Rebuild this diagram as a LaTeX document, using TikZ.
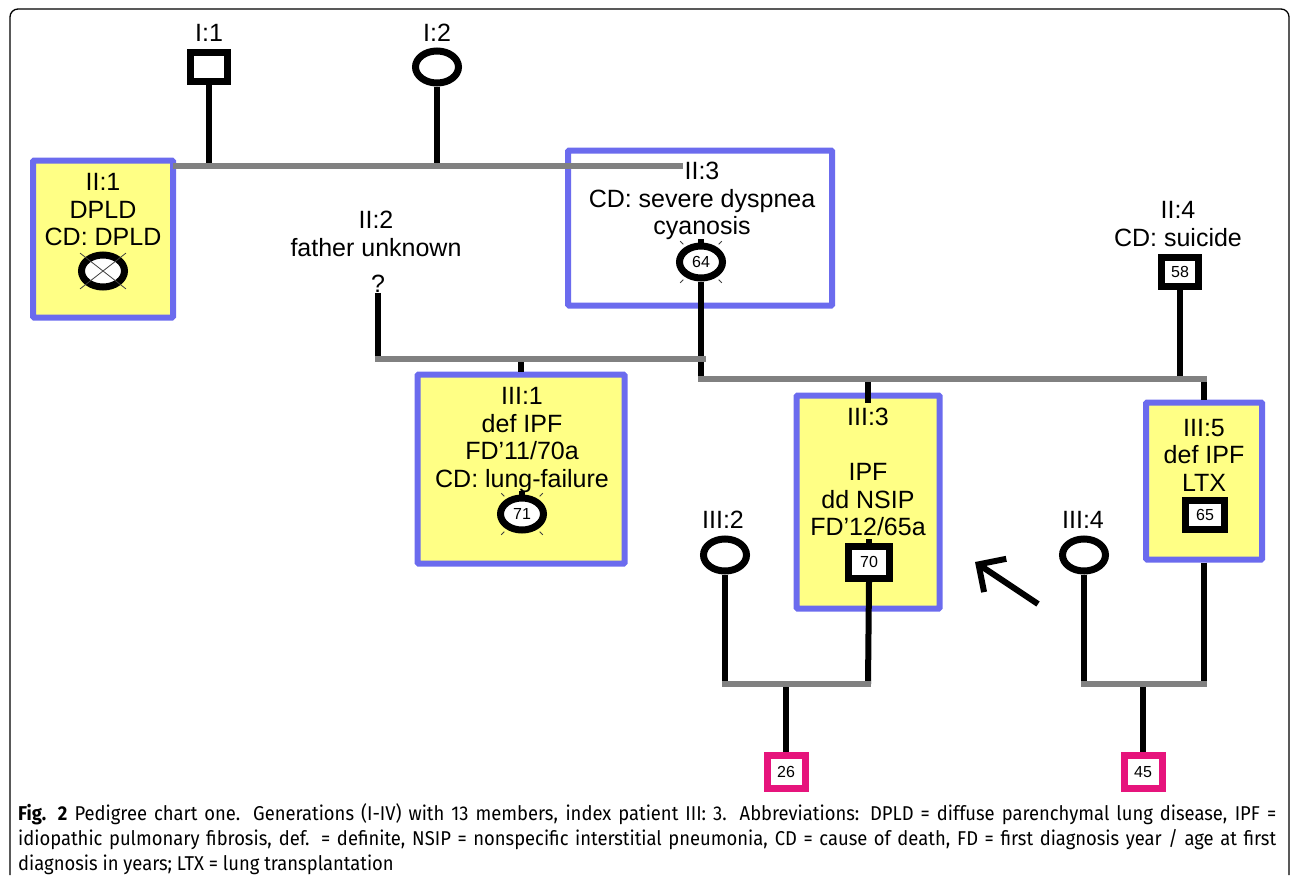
\documentclass[tikz,border=0pt]{standalone}
\usepackage{fontspec}
\setmainfont{Liberation Sans}
\newfontfamily\capfont[FakeStretch=0.92]{Fira Sans}
\usetikzlibrary{arrows.meta,calc,positioning,shapes.geometric}
\definecolor{pdBlue}{HTML}{6B6BEE}
\definecolor{pdYellow}{HTML}{FFFF85}
\definecolor{pdGrey}{HTML}{818181}
\definecolor{pdPink}{HTML}{E6147C}
\tikzset{
  pd frame/.style={draw=pdBlue, line width=6pt, rounded corners=1pt},
  pd box/.style={pd frame, fill=pdYellow},
  pd text/.style={font=\fontsize{25}{27.5}\selectfont, align=center, inner sep=0pt},
  pd num/.style={font=\fontsize{16}{16}\selectfont, inner sep=0pt},
  pd male/.style={draw, line width=7pt, fill=white, minimum width=37pt, minimum height=29pt, pd num},
  pd female/.style={ellipse, draw, line width=7pt, fill=white, minimum width=43pt, minimum height=32pt, pd num},
  pd child/.style={pd male, draw=pdPink, minimum width=38pt, minimum height=33pt},
  pd line/.style={draw=black, line width=6pt},
  pd mate/.style={draw=pdGrey, line width=6pt, line cap=rect},
  pd tick/.style={draw=black!75, line width=.8pt},
  pd index/.style={draw=black, line width=6pt, -{Straight Barb[length=20pt,width=40pt]}},
  pd caption/.style={font=\capfont\fontsize{20}{25}\selectfont, text width=1258pt,
    align=justify, inner sep=0pt, anchor=north west}
}

\begin{document}
\begin{tikzpicture}[x=1pt,y=-1pt]
  \useasboundingbox (0,0) rectangle (1292,875);
  \draw[line width=1.3pt, rounded corners=8pt] (10,875) -- (10,9) -- (1289,9) -- (1289,875);

  % boxes of affected members
  \node[pd box, minimum width=140pt, minimum height=157pt] (b21) at (103,239) {};
  \node[pd frame, fill=white, minimum width=264pt, minimum height=155pt] (b23) at (700,228) {};
  \node[pd box, minimum width=207pt, minimum height=189pt] (b31) at (521,469) {};
  \node[pd box, minimum width=143pt, minimum height=213pt] (b33) at (868,502) {};
  \node[pd box, minimum width=116pt, minimum height=157pt] (b35) at (1204,481) {};

  % generation I
  \node[pd text] (i1 lbl) at (209,33) {I:1};
  \node[pd text] (i2 lbl) at (437,33) {I:2};
  \node[pd male] (i1) at (209,67) {};
  \node[pd female] (i2) at (437,67) {};

  % generation II
  \node[pd text] (ii1 lbl) at (103,210) {II:1\\DPLD\\CD: DPLD};
  \node[pd female] (ii1) at (103,271) {};
  \node[pd text] (ii2 lbl) at (376,234) {II:2\\father unknown};
  \node[pd text] (ii2) at (378,284) {?};
  \node[pd text] (ii3 lbl) at (702,201) {II:3\\CD: severe dyspnea\\cyanosis};
  \node[pd female] (ii3) at (701,262) {64};
  \node[pd text] (ii4 lbl) at (1178,224) {II:4\\CD: suicide};
  \node[pd male] (ii4) at (1180,272) {58};

  % generation III
  \node[pd text] (iii1 lbl) at (522,440) {III:1\\def IPF\\FD'11/70a\\CD: lung-failure};
  \node[pd female] (iii1) at (522,514) {71};
  \node[pd text] (iii2 lbl) at (723,520) {III:2};
  \node[pd female] (iii2) at (725,555) {};
  \node[pd text] (iii3 lbl) at (868,472) {III:3\\[27.5pt]IPF\\dd NSIP\\FD'12/65a};
  \node[pd male, minimum width=41pt, minimum height=32pt] (iii3) at (869,562) {70};
  \node[pd text] (iii4 lbl) at (1083,520) {III:4};
  \node[pd female] (iii4) at (1084,555) {};
  \node[pd text] (iii5 lbl) at (1204,455) {III:5\\def IPF\\LTX};
  \node[pd male, minimum width=39pt, minimum height=29pt] (iii5) at (1205,515) {65};

  % generation IV
  \node[pd child] (iv1) at (786,772) {26};
  \node[pd child] (iv2) at (1143,772) {45};

  % deceased marks
  \draw[pd tick] ($(ii1.center)!1.3!(ii1.north west)$) -- ($(ii1.center)!1.3!(ii1.south east)$)
    ($(ii1.center)!1.3!(ii1.north east)$) -- ($(ii1.center)!1.3!(ii1.south west)$);
  \foreach \p in {ii3,iii1}{
    \foreach \a in {45,135,225,315}
      \draw[pd tick] ($(\p.center)!1.15!(\p.\a)$) -- ($(\p.center)!1.35!(\p.\a)$);
    \draw[pd line] (\p.north) -- ++(0,-4);
  }
  \draw[pd line] (iii3.north) -- ++(0,-4);

  % lines of descent
  \coordinate (sib II) at (680,166);
  \coordinate (mate II) at (703,359);
  \coordinate (sib III) at (1204,379);
  \coordinate (mate III a) at (868,684);
  \coordinate (mate III b) at (1204,684);
  \draw[pd line] (i1.south) -- (i1 |- sib II);
  \draw[pd line] (i2.south) -- (i2 |- sib II);
  \draw[pd mate] (b21.east |- sib II) -- (sib II);

  \draw[pd line] (ii2.south) -- (ii2 |- mate II);
  \draw[pd line] (ii3.south) -- (ii3 |- sib III);
  \draw[pd line] (ii4.south) -- (ii4 |- sib III);
  \draw[pd line] (b31.north |- mate II) -- (b31.north);
  \draw[pd line] (b33.north |- sib III) -- ($(b33.north)+(0,10)$);
  \draw[pd line] (sib III) -- (b35.north);
  \draw[pd mate] (ii2 |- mate II) -- (mate II);
  \draw[pd mate] (ii3 |- sib III) -- (sib III);

  \draw[pd line] (iii2.south) -- (iii2 |- mate III a);
  \draw[pd line] (iii3.south) -- (mate III a);
  \draw[pd line] (iii4.south) -- (iii4 |- mate III b);
  \draw[pd line] (b35.south) -- (mate III b);
  \draw[pd line] (iv1 |- mate III a) -- (iv1.north);
  \draw[pd line] (iv2 |- mate III b) -- (iv2.north);
  \draw[pd mate] (iii2 |- mate III a) -- (mate III a);
  \draw[pd mate] (iii4 |- mate III b) -- (mate III b);

  % index patient
  \coordinate (index tail) at (1038,604);
  \coordinate (index tip) at (975,562);
  \draw[pd index] (index tail) -- (index tip);

  \node[pd caption] (caption) at (18,803) {\textbf{Fig. 2} Pedigree chart one. Generations (I-IV) with 13 members, index patient III: 3. Abbreviations: DPLD = diffuse parenchymal lung disease, IPF =\linebreak
    idiopathic pulmonary fibrosis, def. = definite, NSIP = nonspecific interstitial pneumonia, CD = cause of death, FD = first diagnosis year / age at first\linebreak
    diagnosis in years; LTX = lung transplantation};
\end{tikzpicture}
\end{document}
